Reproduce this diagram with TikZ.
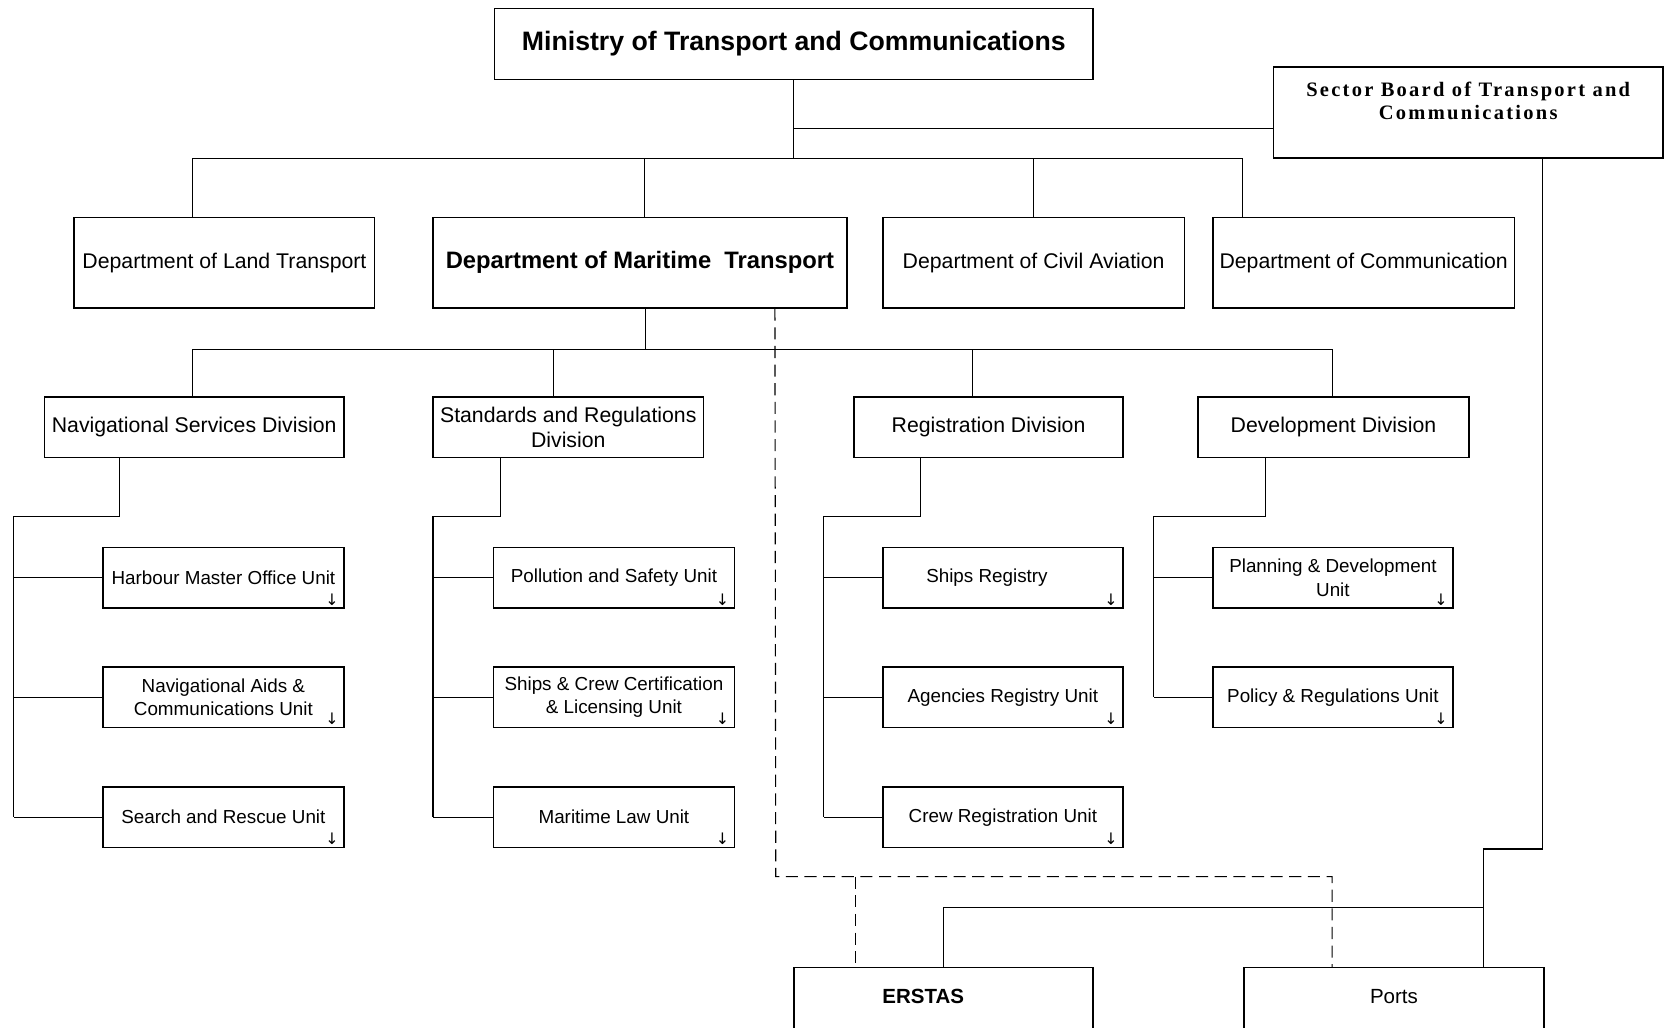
\documentclass[tikz,border=0pt]{standalone}
\usepackage{fontspec}
\setmainfont{Liberation Sans}
\newfontfamily\boardfont[LetterSpace=11]{Liberation Serif}
\newfontfamily\arrowfont{DejaVu Sans}

\tikzset{
  sz/.style 2 args={minimum width=#1*0.02cm, minimum height=#2*0.02cm},
  box/.style={draw, line width=0.9pt, inner sep=1pt, align=center},
  dept/.style={box, font=\fontsize{11.4}{13.6}\selectfont},
  unitbox/.style={box, font=\fontsize{10.1}{12.5}\selectfont},
  conn/.style={line width=0.6pt},
  link/.style={line width=0.6pt, dash pattern=on 6.5pt off 3.5pt},
  moreglyph/.style={inner sep=0pt, font=\arrowfont\fontsize{8.5}{9}\selectfont}
}

\begin{document}
\begin{tikzpicture}[x=0.02cm,y=-0.02cm]
\path[use as bounding box] (0,0) rectangle (1568,968);
\clip (0,0) rectangle (1568,968);

% ministry and board
\node[box, sz={564}{67}, font=\bfseries\fontsize{14.3}{16}\selectfont] (min) at (748,41.5) {Ministry of Transport and Communications};
\node[box, sz={367}{86}, font=\boardfont\bfseries\fontsize{11}{12.5}\selectfont] (sector) at (1383.5,106) {Sector Board of Transport and\\Communications\\\mbox{}};

% departments
\node[dept, sz={283}{85}] (land) at (211.5,247.5) {Department of Land Transport};
\node[dept, sz={390}{85}, font=\bfseries\fontsize{12.75}{15}\selectfont] (mar) at (603,247.5) {Department of Maritime\ \ Transport};
\node[dept, sz={284}{85}] (civ) at (974,247.5) {Department of Civil Aviation};
\node[dept, sz={284}{85}] (com) at (1285,247.5) {Department of Communication};

% divisions
\node[dept, sz={282}{57}] (nav) at (183,402.5) {Navigational Services Division};
\node[dept, sz={255}{57}] (std) at (535.5,402.5) {Standards and Regulations\\Division};
\node[dept, sz={253}{57}] (reg) at (931.5,402.5) {Registration Division};
\node[dept, sz={255}{57}] (dev) at (1256.5,402.5) {Development Division};

% units
\node[unitbox, sz={227}{57}] (hm) at (210.5,544.5) {Harbour Master Office Unit};
\node[unitbox, sz={227}{57}] (na) at (210.5,657) {Navigational Aids \&\\Communications Unit};
\node[unitbox, sz={227}{57}] (sr) at (210.5,770) {Search and Rescue Unit};
\node[unitbox, sz={227}{57}] (ps) at (578.5,544.5) {Pollution and Safety Unit};
\node[unitbox, sz={227}{57}] (sc) at (578.5,657) {Ships \& Crew Certification\\\& Licensing Unit};
\node[unitbox, sz={227}{57}] (ml) at (578.5,770) {Maritime Law Unit};
\node[unitbox, sz={226}{57}] (sh) at (945,544.5) {Ships Registry\rule{0.6cm}{0pt}};
\node[unitbox, sz={226}{57}] (ag) at (945,657) {Agencies Registry Unit};
\node[unitbox, sz={226}{57}] (cr) at (945,770) {Crew Registration Unit};
\node[unitbox, sz={226}{57}] (pd) at (1256,544.5) {Planning \& Development\\Unit};
\node[unitbox, sz={226}{57}] (pr) at (1256,657) {Policy \& Regulations Unit};

\foreach \u in {hm,na,sr,ps,sc,ml,sh,ag,cr,pd,pr}
  \node[moreglyph] (\u-more) at ([shift={(-12,-9)}]\u.south east) {↓};

% bottom boxes
\node[box, minimum width=282*0.02cm, anchor=north, inner sep=0pt, text height=0.68cm, text depth=1cm,
  font=\bfseries\fontsize{11}{13}\selectfont] (erstas) at (889,911) {ERSTAS\rule{0.76cm}{0pt}};
\node[box, minimum width=283*0.02cm, anchor=north, inner sep=0pt, text height=0.68cm, text depth=1cm,
  font=\fontsize{11}{13}\selectfont] (ports) at (1313.5,911) {Ports};

% links
\coordinate (dbus) at (748,149);
\coordinate (sj) at (748,121);
\draw[conn] (min.south) -- (dbus);
\draw[conn] (sj) -- (sj -| sector.west);
\foreach \d/\x in {land/112,mar/200,civ/143,com/29}
  \draw[conn] ([shift={(\x,0)}]\d.north west) |- (dbus);

\coordinate (vbus) at (608,329);
\draw[conn] (vbus |- mar.south) -- (vbus);
\foreach \d/\x in {nav/140,std/114,reg/112,dev/127}
  \draw[conn] ([shift={(\x,0)}]\d.north west) |- (vbus);

\coordinate (navspine) at (13,487);
\draw[conn] ([shift={(71,0)}]nav.south west) |- (navspine) -- (navspine |- sr.west);
\foreach \u in {hm,na,sr} \draw[conn] (\u.west) -- (\u.west -| navspine);

\coordinate (stdspine) at (408,487);
\draw[conn] ([shift={(64,0)}]std.south west) |- (stdspine) -- (stdspine |- ml.west);
\foreach \u in {ps,sc,ml} \draw[conn] (\u.west) -- (\u.west -| stdspine);

\coordinate (regspine) at (776,487);
\draw[conn] ([shift={(63,0)}]reg.south west) |- (regspine) -- (regspine |- cr.west);
\foreach \u in {sh,ag,cr} \draw[conn] (\u.west) -- (\u.west -| regspine);

\coordinate (devspine) at (1087,487);
\draw[conn] ([shift={(64,0)}]dev.south west) |- (devspine) -- (devspine |- pr.west);
\foreach \u in {pd,pr} \draw[conn] (\u.west) -- (\u.west -| devspine);

\coordinate (pj) at (1398,800);
\coordinate (ej) at (1398,855);
\draw[conn] ([shift={(254,0)}]sector.south west) |- (pj) -- (pj |- ports.north);
\draw[conn] (ej) -| ([shift={(142,0)}]erstas.north west);

\coordinate (dj) at (731,826);
\coordinate (dk) at (806,826);
\draw[link] ([shift={(323,0)}]mar.south west) -- (dj) -| ([shift={(84,0)}]ports.north west);
\draw[link] (dk) -- (dk |- erstas.north);
\end{tikzpicture}
\end{document}
